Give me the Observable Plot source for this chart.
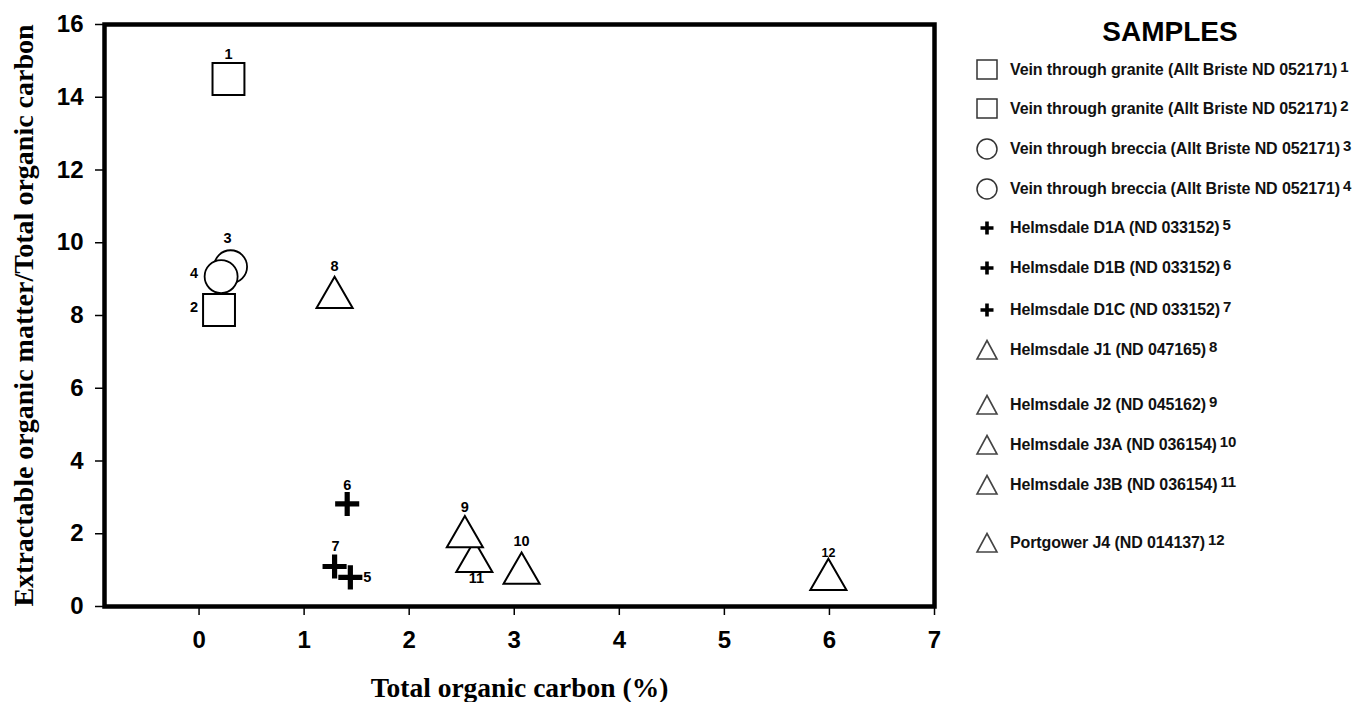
<!DOCTYPE html>
<html><head><meta charset="utf-8">
<script src="https://cdn.jsdelivr.net/npm/d3@7"></script>
<script src="https://cdn.jsdelivr.net/npm/@observablehq/plot@0.6"></script>
<style>
body{margin:0;background:#fff;}
#wrap{position:relative;width:1371px;height:702px;overflow:hidden;}
#chart{position:absolute;left:0;top:0;}
#legend{position:absolute;left:960px;top:0;width:411px;height:702px;font-family:"Liberation Sans",Arial,sans-serif;font-weight:bold;color:#111;}
#legend .title{position:absolute;left:0;width:420px;text-align:center;top:17px;font-size:28px;line-height:30px;color:#000;}
#legend .row{position:absolute;left:14px;height:24px;display:flex;align-items:center;white-space:nowrap;font-size:16px;letter-spacing:-0.1px;}
#legend .row svg{width:26px;height:24px;margin-right:10px;flex:none;}
#legend sup{font-size:15px;position:relative;top:-3px;margin-left:3px;vertical-align:super;line-height:0;}
</style></head>
<body>
<div id="wrap"><div id="chart"></div><div id="legend"></div></div>
<script>
// ---- data ----
const sampleIds = [1, 2, 3, 4, 5, 6, 7, 8, 9, 10, 11, 12];
const sampleNames = [
  "Vein through granite (Allt Briste ND 052171)",
  "Vein through granite (Allt Briste ND 052171)",
  "Vein through breccia (Allt Briste ND 052171)",
  "Vein through breccia (Allt Briste ND 052171)",
  "Helmsdale D1A (ND 033152)",
  "Helmsdale D1B (ND 033152)",
  "Helmsdale D1C (ND 033152)",
  "Helmsdale J1 (ND 047165)",
  "Helmsdale J2 (ND 045162)",
  "Helmsdale J3A (ND 036154)",
  "Helmsdale J3B (ND 036154)",
  "Portgower J4 (ND 014137)"
];
const sampleShapes = ["square","square","circle","circle","plus","plus","plus","triangle","triangle","triangle","triangle","triangle"];
const tocPercent = [0.28, 0.19, 0.30, 0.21, 1.44, 1.41, 1.29, 1.29, 2.53, 3.07, 2.62, 5.99];
const eomPerToc  = [14.5, 8.15, 9.34, 9.07, 0.80, 2.82, 1.10, 8.63, 2.05, 1.05, 1.37, 0.88];
const xTicks = [0, 1, 2, 3, 4, 5, 6, 7];
const yTicks = [0, 2, 4, 6, 8, 10, 12, 14, 16];
const xTitle = "Total organic carbon (%)";
const yTitle = "Extractable organic matter/Total organic carbon";
const legendTitle = "SAMPLES";

// ---- layout (not data) ----
const labelPlacement = {1:[0,-25],2:[-25,-3],3:[-3,-28],4:[-27,-3],5:[17,0],6:[0,-19],7:[1,-20],8:[0,-26],9:[0,-25],10:[0,-27],11:[2,22],12:[0,-21]};
const legendRowCenters = [70,109,149,189,228,268,310,350,405,445,485,543];

const samples = sampleIds.map((id, i) => ({id, name: sampleNames[i], shape: sampleShapes[i], x: tocPercent[i], y: eomPerToc[i]}));
const byShape = s => samples.filter(d => d.shape === s);
const triangles = byShape("triangle").slice().reverse();

const serif = "'Liberation Serif', 'Times New Roman', serif";
const sans = "'Liberation Sans', Arial, sans-serif";

const labelMarks = samples.map(d => Plot.text([d], {
  x: "x", y: "y", text: s => String(s.id),
  dx: labelPlacement[d.id][0], dy: labelPlacement[d.id][1],
  fontSize: d.id === 12 ? 12.5 : 14.5, fontWeight: "bold", fill: "black"
}));

const chart = Plot.plot({
  width: 960,
  height: 702,
  marginLeft: 104,
  marginRight: 26,
  marginTop: 24,
  marginBottom: 96,
  style: {fontFamily: sans, fontWeight: "bold", color: "#000", background: "#fff"},
  x: {domain: [-0.9, 7]},
  y: {domain: [0, 16]},
  marks: [
    Plot.axisX({ticks: xTicks, tickSize: 9, tickPadding: 15, fontSize: 24, fontWeight: "bold", label: null, strokeWidth: 1.5}),
    Plot.axisY({ticks: yTicks, tickSize: 9, tickPadding: 12, fontSize: 24, fontWeight: "bold", label: null, strokeWidth: 1.5}),
    Plot.dot(byShape("square"), {x: "x", y: "y", symbol: "square", r: 18, fill: "white", stroke: "black", strokeWidth: 2}),
    Plot.dot(byShape("circle"), {x: "x", y: "y", symbol: "circle", r: 16.5, fill: "white", stroke: "black", strokeWidth: 1.8}),
    Plot.dot(triangles, {x: "x", y: "y", symbol: "triangle", r: 13.4, dy: 5, fill: "white", stroke: "black", strokeWidth: 2}),
    Plot.dot(byShape("plus"), {x: "x", y: "y", symbol: "plus", r: 7.8, stroke: "black", strokeWidth: 5.2}),
    ...labelMarks,
    Plot.frame({stroke: "black", strokeWidth: 4.5}),
    Plot.text([yTitle], {frameAnchor: "left", text: d => d, rotate: -90, dx: -80, textAnchor: "middle", fontSize: 28, fontFamily: serif, fontWeight: "bold", fill: "black", lineAnchor: "middle"}),
    Plot.text([xTitle], {frameAnchor: "bottom", text: d => d, dy: 82, textAnchor: "middle", fontSize: 27.5, fontFamily: serif, fontWeight: "bold", fill: "black", lineAnchor: "middle"})
  ]
});
document.getElementById("chart").appendChild(chart);

// ---- legend ----
const symbolSvg = {
  square: '<rect x="3" y="2" width="20" height="19" fill="white" stroke="#333" stroke-width="1.5"/>',
  circle: '<circle cx="13" cy="12" r="10" fill="white" stroke="#333" stroke-width="1.5"/>',
  plus: '<path d="M6.5,12H19.5M13,5.5V18.5" stroke="#000" stroke-width="3.6" fill="none"/>',
  triangle: '<path d="M13,2.5L23,21H3Z" fill="white" stroke="#444" stroke-width="1.6" stroke-linejoin="miter"/>'
};
const legend = d3.select("#legend");
legend.append("div").attr("class", "title").text(legendTitle);
samples.forEach((d, i) => {
  const row = legend.append("div").attr("class", "row").style("top", (legendRowCenters[i] - 12) + "px");
  row.html(`<svg viewBox="0 0 26 24">${symbolSvg[d.shape]}</svg><span>${d.name}</span><sup>${d.id}</sup>`);
});
</script>
</body></html>
